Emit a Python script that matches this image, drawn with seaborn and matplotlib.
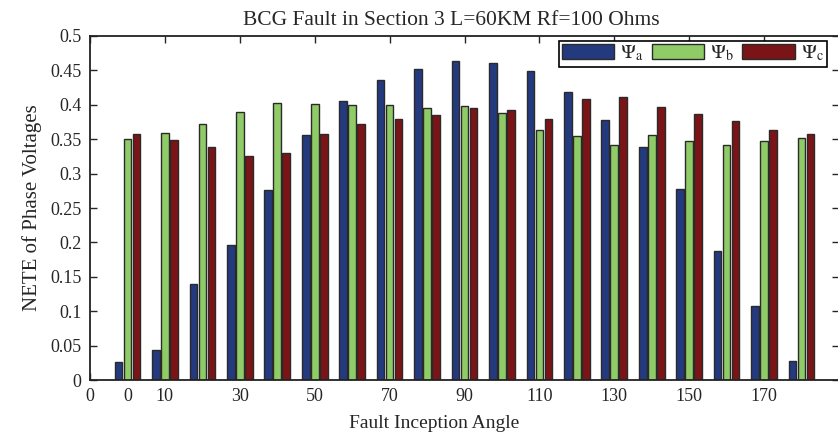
import pandas as pd
import matplotlib
matplotlib.use('Agg')
import matplotlib.pyplot as plt
import numpy as np
import seaborn as sns

# NETE of the three phase voltages per fault inception angle
angles = [0, 10, 20, 30, 40, 50, 60, 70, 80, 90, 100, 110, 120, 130, 140, 150, 160, 170, 180]
psi_a = [0.026, 0.044, 0.140, 0.196, 0.276, 0.356, 0.406, 0.436, 0.452, 0.463, 0.461, 0.449,
         0.418, 0.378, 0.339, 0.277, 0.188, 0.108, 0.028]
psi_b = [0.351, 0.359, 0.372, 0.389, 0.402, 0.401, 0.399, 0.399, 0.396, 0.398, 0.388, 0.364,
         0.355, 0.341, 0.356, 0.348, 0.342, 0.348, 0.352]
psi_c = [0.358, 0.349, 0.339, 0.326, 0.330, 0.358, 0.372, 0.379, 0.385, 0.396, 0.392, 0.380,
         0.408, 0.412, 0.397, 0.387, 0.376, 0.364, 0.357]
phase_labels = [r'$\Psi_\mathrm{a}$', r'$\Psi_\mathrm{b}$', r'$\Psi_\mathrm{c}$']
xtick_labels = ['0', '10', '30', '50', '70', '90', '110', '130', '150', '170', '']
ytick_vals = np.arange(0, 0.501, 0.05)
ytick_labels = ['0', '0.05', '0.1', '0.15', '0.2', '0.25', '0.3', '0.35', '0.4', '0.45', '0.5']

colors = ['#233a7e', '#8fcb66', '#7b1416']

sns.set_style('ticks')
plt.rcParams['font.family'] = ['Liberation Serif', 'DejaVu Serif']
plt.rcParams['mathtext.fontset'] = 'stix'

n = len(angles)
df = pd.DataFrame({
    'pos': np.tile(np.arange(1, n + 1), 3),
    'val': psi_a + psi_b + psi_c,
    'phase': [phase_labels[0]] * n + [phase_labels[1]] * n + [phase_labels[2]] * n,
})

fig = plt.figure(figsize=(8.38, 4.36), dpi=100)
ax = fig.add_axes([90 / 838, 56 / 436, 749 / 838, 344 / 436])

sns.barplot(data=df, x='pos', y='val', hue='phase', native_scale=True,
            palette=colors, saturation=1, width=0.72, gap=0.15, errorbar=None,
            edgecolor='#2a2a2a', linewidth=1.0, ax=ax)

ax.set_xlim(0, 20)
ax.set_ylim(0, 0.5)
ax.set_xticks(np.arange(0, 21, 2))
ax.set_xticklabels(xtick_labels)
ax.set_yticks(ytick_vals)
ax.set_yticklabels(ytick_labels)
# extra "0" label under the first group
ax.text(1, -0.022, '0', transform=ax.get_xaxis_transform(), ha='center', va='top', fontsize=13)

ax.tick_params(direction='in', top=True, right=True, labelsize=13, length=5, width=1, pad=6)
for s in ax.spines.values():
    s.set_linewidth(1.3)
    s.set_color('#222222')

ax.set_xlabel('Fault Inception Angle', fontsize=14, labelpad=7, x=0.459)
ax.set_ylabel('NETE of Phase Voltages', fontsize=15, labelpad=6)
ax.set_title('BCG Fault in Section 3 L=60KM Rf=100 Ohms', fontsize=15.5, pad=8, x=0.483)

handles, labels = ax.get_legend_handles_labels()
leg = ax.legend(handles, labels, ncol=3, loc='upper right', bbox_to_anchor=(0.984, 0.986),
                borderaxespad=0, fontsize=14.5, frameon=True, fancybox=False, edgecolor='black',
                framealpha=1, handlelength=2.6, handleheight=0.7, handletextpad=0.3,
                columnspacing=0.4, borderpad=0.15)
leg.get_frame().set_linewidth(1.2)

fig.savefig('out.png', dpi=100)
